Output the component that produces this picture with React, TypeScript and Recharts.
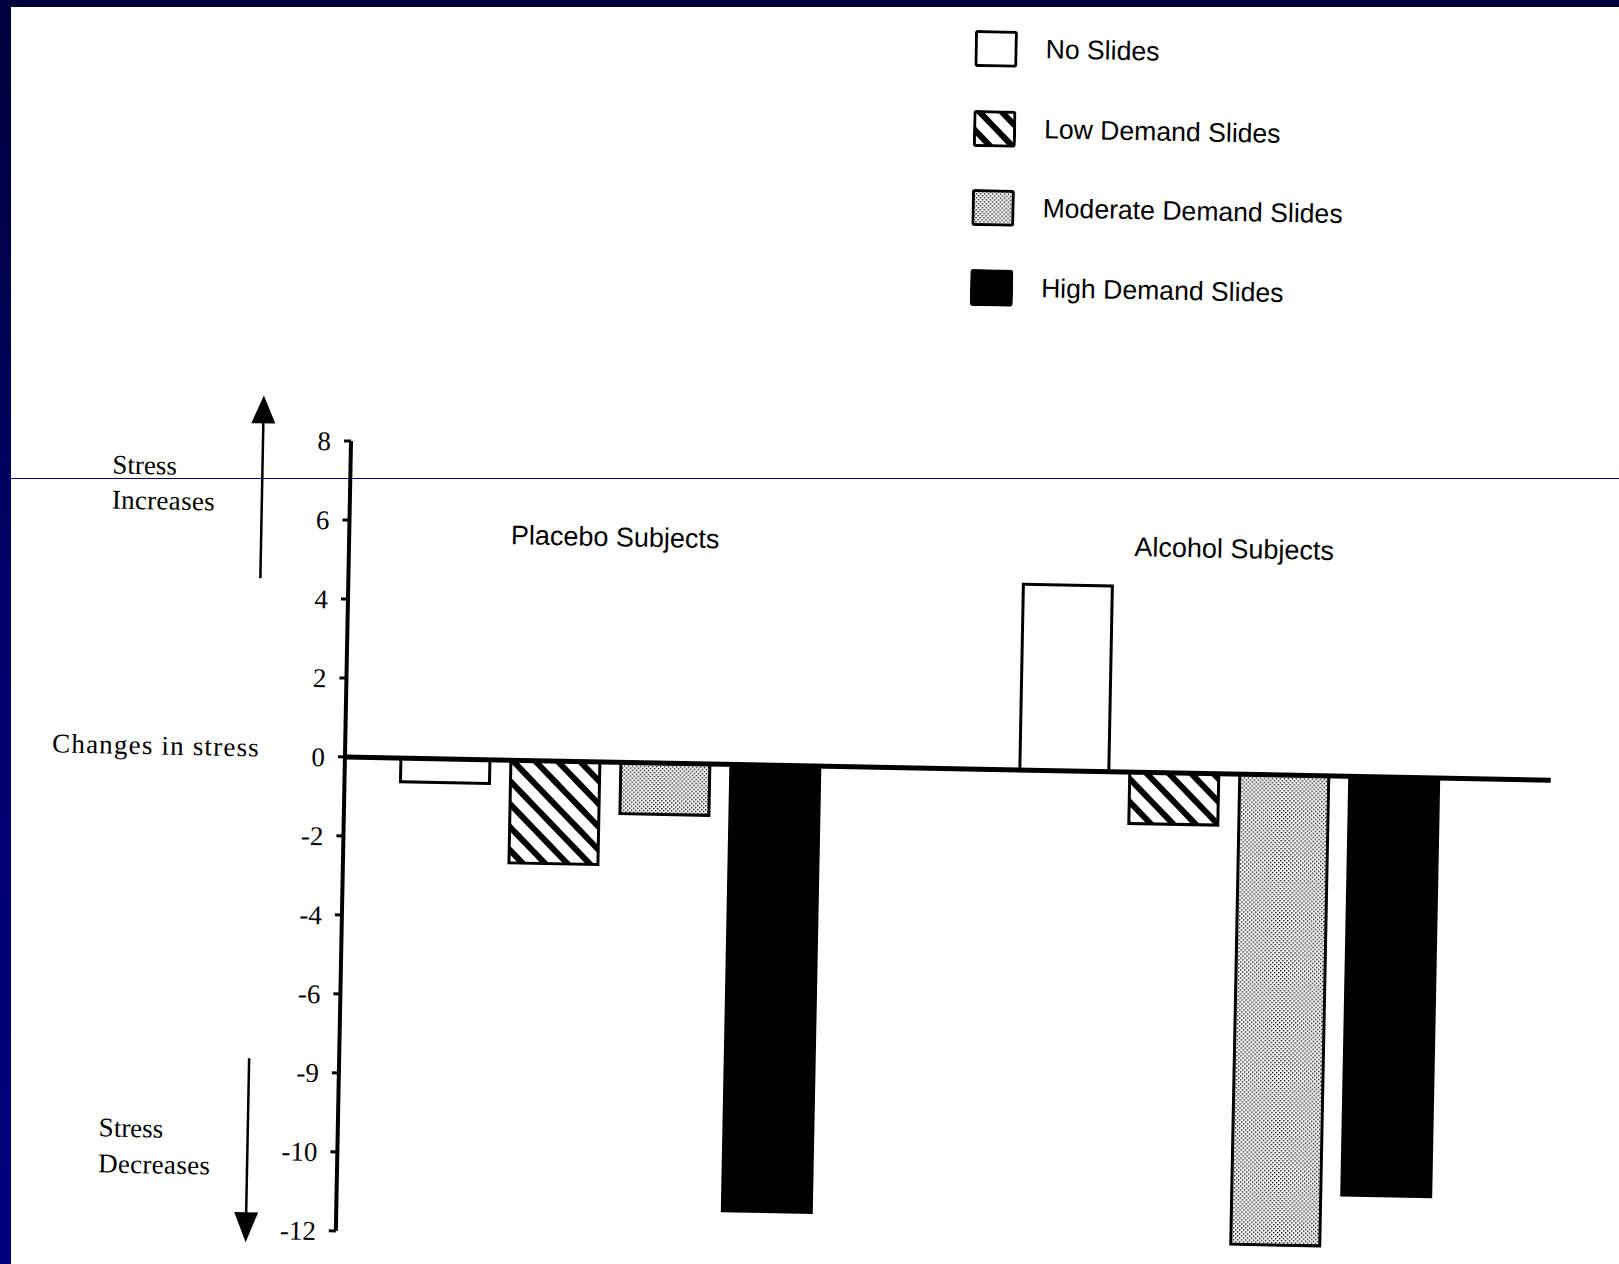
import React from 'react';
import { BarChart, Bar, XAxis, YAxis, ReferenceLine, Legend } from 'recharts';

// ---------- data ----------
const CATEGORIES = ['Placebo Subjects', 'Alcohol Subjects'];
const NO_SLIDES = [-0.6, 4.7];
const LOW_DEMAND = [-2.6, -1.3];
const MODERATE_DEMAND = [-1.3, -11.9];
const HIGH_DEMAND = [-11.3, -10.6];
const TICK_VALUES = [8, 6, 4, 2, 0, -2, -4, -6, -8, -10, -12];
const TICK_LABELS = ['8', '6', '4', '2', '0', '-2', '-4', '-6', '-9', '-10', '-12'];
const SERIES_KEYS = ['noSlides', 'low', 'moderate', 'high'];
const SERIES_NAMES = ['No Slides', 'Low Demand Slides', 'Moderate Demand Slides', 'High Demand Slides'];

const data = CATEGORIES.map((c, i) => ({
  category: c,
  noSlides: NO_SLIDES[i],
  low: LOW_DEMAND[i],
  moderate: MODERATE_DEMAND[i],
  high: HIGH_DEMAND[i],
}));

const SERIF = '"Liberation Serif", "Times New Roman", serif';
const SANS = '"Liberation Sans", Arial, sans-serif';

function PatternDefs({ prefix }: { prefix: string }) {
  return (
    <>
      <pattern id={`${prefix}-low`} patternUnits="userSpaceOnUse" width={16} height={16} patternTransform="rotate(-45)">
        <rect x={0} y={0} width={16} height={16} fill="#fff" />
        <rect x={0} y={0} width={6} height={16} fill="#000" />
      </pattern>
      <pattern id={`${prefix}-mod`} patternUnits="userSpaceOnUse" width={4} height={4}>
        <rect x={0} y={0} width={4} height={4} fill="#fff" />
        <rect x={0} y={0} width={1.4} height={1.4} fill="#000" />
        <rect x={2} y={2} width={1.4} height={1.4} fill="#000" />
      </pattern>
    </>
  );
}

const fillFor = (prefix: string, idx: number) =>
  ['#ffffff', `url(#${prefix}-low)`, `url(#${prefix}-mod)`, '#000000'][idx];

function Swatch({ idx }: { idx: number }) {
  const prefix = `lg${idx}`;
  return (
    <svg width={43} height={37} style={{ display: 'block' }}>
      <defs>
        <PatternDefs prefix={prefix} />
      </defs>
      <rect x={1.5} y={1.5} width={40} height={34} rx={2} fill={fillFor(prefix, idx)} stroke="#000" strokeWidth={3} />
    </svg>
  );
}

const renderLegend = (props: any) => {
  const payload = (props.payload || []).slice().sort(
    (a: any, b: any) => SERIES_KEYS.indexOf(a.dataKey) - SERIES_KEYS.indexOf(b.dataKey)
  );
  return (
    <div style={{ display: 'flex', flexDirection: 'column' }}>
      {payload.map((entry: any) => {
        const idx = SERIES_KEYS.indexOf(entry.dataKey);
        return (
          <div key={entry.dataKey} style={{ height: 79.5, display: 'flex', alignItems: 'center' }}>
            <Swatch idx={idx} />
            <span style={{ marginLeft: 28, fontFamily: SANS, fontSize: 26.6, color: '#000', whiteSpace: 'nowrap' }}>
              {entry.value}
            </span>
          </div>
        );
      })}
    </div>
  );
};

const CategoryTick = (props: any) => {
  const { x, payload } = props;
  return (
    <text x={x} y={541} textAnchor="middle" fontFamily={SANS} fontSize={27} fill="#000">
      {payload.value}
    </text>
  );
};

const fmt = (v: number) => {
  const i = TICK_VALUES.indexOf(v);
  return i >= 0 ? TICK_LABELS[i] : String(v);
};

export default function App() {
  return (
    <div style={{ position: 'absolute', left: 0, top: 0, width: 1619, height: 1264, overflow: 'hidden', background: '#ffffff' }}>
      <div style={{ position: 'absolute', left: 11, top: 478, width: 1608, height: 1, background: '#00007a' }} />
      <div
        style={{
          position: 'absolute',
          left: 0,
          top: 0,
          width: 1619,
          height: 1264,
          transform: 'rotate(1.1deg)',
          transformOrigin: '345px 754px',
        }}
      >
        <BarChart
          width={1619}
          height={1264}
          data={data}
          margin={{ top: 411, right: 68, bottom: 33, left: 265 }}
          barCategoryGap={99.5}
          barGap={21}
        >
          <defs>
            <PatternDefs prefix="bar" />
          </defs>
          <XAxis
            dataKey="category"
            orientation="top"
            height={30}
            axisLine={false}
            tickLine={false}
            padding={{ left: -43.5, right: 11.5 }}
            tick={(p: any) => <CategoryTick {...p} />}
            interval={0}
          />
          <YAxis
            type="number"
            domain={[-12, 8]}
            ticks={TICK_VALUES}
            tickFormatter={fmt}
            width={80}
            interval={0}
            allowDataOverflow
            axisLine={{ stroke: '#000', strokeWidth: 4 }}
            tickLine={{ stroke: '#000', strokeWidth: 3 }}
            tickSize={7}
            tickMargin={13}
            tick={{ fill: '#000', fontFamily: SERIF, fontSize: 27 }}
          />
          {SERIES_KEYS.map((k, i) => (
            <Bar
              key={k}
              dataKey={k}
              name={SERIES_NAMES[i]}
              fill={fillFor('bar', i)}
              stroke="#000"
              strokeWidth={3}
              isAnimationActive={false}
            />
          ))}
          <ReferenceLine y={0} stroke="#000" strokeWidth={5} />
          <Legend
            content={renderLegend}
            layout="horizontal"
            verticalAlign="middle"
            align="center"
            wrapperStyle={{ left: 961, top: -3, width: 420, height: 320 }}
          />
        </BarChart>
        <svg width={1619} height={1264} style={{ position: 'absolute', left: 0, top: 0, pointerEvents: 'none' }}>
          <g fontFamily={SERIF} fontSize={27} fill="#000">
            <text x={107} y={478}>Stress</text>
            <text x={107} y={513} letterSpacing={0.3}>Increases</text>
            <text x={52} y={758} letterSpacing={1.2}>Changes in stress</text>
            <text x={106} y={1141}>Stress</text>
            <text x={106} y={1177} letterSpacing={0.3}>Decreases</text>
          </g>
          <line x1={257} y1={580} x2={257} y2={420} stroke="#000" strokeWidth={2.5} />
          <polygon points="257,397 245,425 269,425" fill="#000" />
          <line x1={255} y1={1060} x2={255} y2={1218} stroke="#000" strokeWidth={2.5} />
          <polygon points="255,1244 243,1214 267,1214" fill="#000" />
        </svg>
      </div>
      <div style={{ position: 'absolute', left: 0, top: 0, width: 1619, height: 7, background: '#00003a' }} />
      <div
        style={{
          position: 'absolute',
          left: 0,
          top: 0,
          width: 11,
          height: 1264,
          background: 'linear-gradient(to bottom, #00003a 0%, #00006a 50%, #00007c 100%)',
        }}
      />
    </div>
  );
}
